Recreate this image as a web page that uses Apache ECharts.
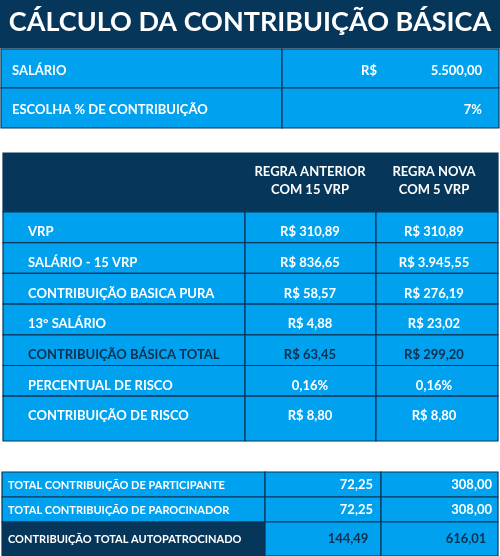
<!DOCTYPE html><html><head><meta charset="utf-8">
<script src="https://cdn.jsdelivr.net/npm/echarts@6/dist/echarts.min.js"></script>
<style>html,body{margin:0;padding:0;background:#fff}#c{width:500px;height:556px}</style></head><body><div id="c"></div>
<script>
const title = 'CÁLCULO DA CONTRIBUIÇÃO BÁSICA';
const inputLabels = ['SALÁRIO', 'ESCOLHA % DE CONTRIBUIÇÃO'];
const inputValues = ['5.500,00', '7%'];
const headers = [['REGRA ANTERIOR', 'COM 15 VRP'], ['REGRA NOVA', 'COM 5 VRP']];
const rowLabels = ['VRP', 'SALÁRIO - 15 VRP', 'CONTRIBUIÇÃO BASICA PURA', '13° SALÁRIO', 'CONTRIBUIÇÃO BÁSICA TOTAL', 'PERCENTUAL DE RISCO', 'CONTRIBUIÇÃO DE RISCO'];
const anterior = ['R$ 310,89', 'R$ 836,65', 'R$ 58,57', 'R$ 4,88', 'R$ 63,45', '0,16%', 'R$ 8,80'];
const nova = ['R$ 310,89', 'R$ 3.945,55', 'R$ 276,19', 'R$ 23,02', 'R$ 299,20', '0,16%', 'R$ 8,80'];
const totalLabels = ['TOTAL CONTRIBUIÇÃO DE PARTICIPANTE', 'TOTAL CONTRIBUIÇÃO DE PAROCINADOR', 'CONTRIBUIÇÃO TOTAL AUTOPATROCINADO'];
const totalAnterior = ['72,25', '72,25', '144,49'];
const totalNova = ['308,00', '308,00', '616,01'];

const NAVY = '#06365A', BLUE = '#00A2F0', DARK = '#0B2F4E';
const F = 'Lato, "Open Sans", sans-serif';
const g = [];
function rect(x, y, w, h, fill) { g.push({type:'rect', shape:{x, y, width:w, height:h}, style:{fill, stroke:NAVY, lineWidth:1.2}}); }
function txt(s, x, y, size, align, color) { g.push({type:'text', x, y, style:{text:s, font:'bold '+size+'px '+F, fill:color||'#fff', textAlign:align||'left', textVerticalAlign:'middle'}}); }

rect(0, 0, 500, 48, NAVY);
txt(title, 250, 22, 27, 'center');

// input table
const iy = [49, 88, 128];
inputLabels.forEach((l, i) => {
  rect(1, iy[i], 281, iy[i+1]-iy[i], BLUE);
  rect(282, iy[i], 217, iy[i+1]-iy[i], BLUE);
  txt(l, 12, iy[i]+22, 13);
  txt(inputValues[i], 482, iy[i]+22, 13, 'right');
});
txt('R$', 369, iy[0]+22, 13, 'center');

// main table
rect(3, 153, 495, 59, NAVY);
headers.forEach((h, j) => {
  const cx = j === 0 ? 310 : 434;
  txt(h[0], cx, 172, 13, 'center');
  txt(h[1], cx, 190, 13, 'center');
});
const rh = 30.7;
rowLabels.forEach((l, i) => {
  const y = 212 + i*rh, h = i === rowLabels.length-1 ? 441 - y : rh;
  const col = i === 4 ? DARK : '#fff';
  rect(3, y, 242, h, BLUE); rect(245, y, 131, h, BLUE); rect(376, y, 122, h, BLUE);
  txt(l, 28, y+20, 13, 'left', col);
  txt(anterior[i], 310, y+20, 13, 'center', col);
  txt(nova[i], 434, y+20, 13, 'center', col);
});

// totals
const ty = [472, 497, 522, 556];
totalLabels.forEach((l, i) => {
  const y = ty[i], h = ty[i+1]-ty[i], last = i === 2;
  rect(2, y, 263, h, last ? NAVY : BLUE); rect(265, y, 116, h, BLUE); rect(381, y, 117, h, BLUE);
  txt(l, 8, y + (last ? 17 : 13), 11);
  if (last) {
    txt(totalAnterior[i], 348, y+17, 13, 'center', DARK);
    txt(totalNova[i], 466, y+17, 13, 'center', DARK);
  } else {
    txt(totalAnterior[i], 373, y+13, 13, 'right');
    txt(totalNova[i], 492, y+13, 13, 'right');
  }
});

const chart = echarts.init(document.getElementById('c'));
chart.setOption({animation:false, graphic:{elements:g}});
</script></body></html>
